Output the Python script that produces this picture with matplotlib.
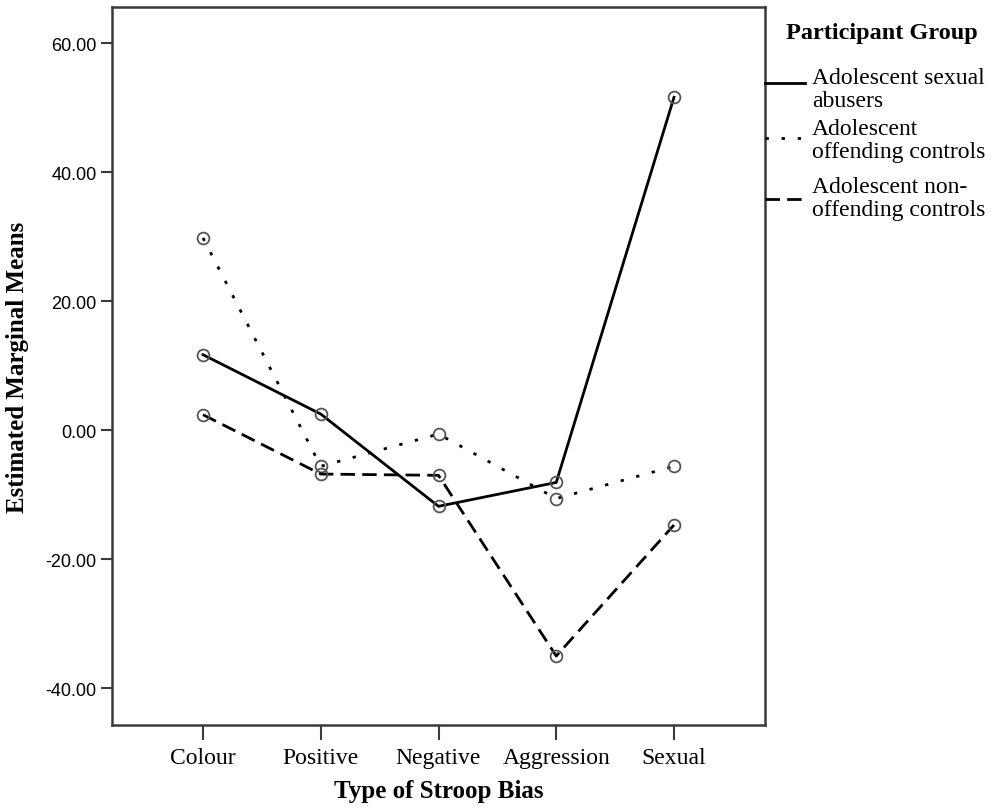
import matplotlib
matplotlib.use("Agg")
import matplotlib.pyplot as plt
from matplotlib.lines import Line2D

# Estimated marginal means by type of Stroop bias
bias_types = ["Colour", "Positive", "Negative", "Aggression", "Sexual"]
sexual_abusers = [11.7, 2.5, -11.8, -8.1, 51.6]
offending_controls = [29.8, -5.6, -0.6, -10.6, -5.6]
nonoffending_controls = [2.4, -6.8, -7.0, -35.0, -14.7]

group_labels = ["Adolescent sexual\nabusers",
                "Adolescent\noffending controls",
                "Adolescent non-\noffending controls"]
yticks = [-40, -20, 0, 20, 40, 60]

serif = "Liberation Serif"
sans = "Liberation Sans"
dark = "#3a3a3a"

fig = plt.figure(figsize=(9.97, 8.12), dpi=100)
ax = fig.add_axes([112/997, 86/812, 653/997, 718/812])

x = list(range(len(bias_types)))
styles = ["-", (0, (1.2, 4.6)), (0, (5.2, 2.6))]
series = [sexual_abusers, offending_controls, nonoffending_controls]
for vals, ls in zip(series, styles):
    ax.plot(x, vals, color="black", linestyle=ls, linewidth=2.0,
            marker="o", markersize=8.5, markerfacecolor="none",
            markeredgecolor="#555555", markeredgewidth=1.3)

ax.set_xlim(-0.773, 4.773)
ax.set_ylim(-45.7, 65.6)
ax.set_xticks(x)
ax.set_xticklabels(bias_types, family=serif, fontsize=17)
ax.set_yticks(yticks)
ax.set_yticklabels(["%.2f" % v for v in yticks], family=sans, fontsize=13)
ax.tick_params(axis="y", length=8, width=1.5, color=dark, pad=3)
ax.tick_params(axis="x", length=11, width=1.5, color=dark, pad=5)
for sp in ax.spines.values():
    sp.set_color(dark)
    sp.set_linewidth(1.8)

ax.set_xlabel("Type of Stroop Bias", family=serif, fontweight="bold",
              fontsize=18, labelpad=8)
ax.set_ylabel("Estimated Marginal Means", family=serif, fontweight="bold",
              fontsize=18, labelpad=12)

# legend drawn by hand to the right of the plot
W, H = 997, 812
fig.text(882/W, 1 - 33/H, "Participant Group", family=serif,
         fontweight="bold", fontsize=17.5, ha="center", va="center")
entry_y = [80, 131, 189]
handle_y = [84, 139, 200]
for lab, ls, ty, hy in zip(group_labels, styles, entry_y, handle_y):
    fig.add_artist(Line2D([765/W, 805/W], [1 - hy/H, 1 - hy/H],
                          transform=fig.transFigure, color="black",
                          linestyle=ls, linewidth=2.0))
    fig.text(812/W, 1 - (ty - 12)/H, lab, family=serif, fontsize=17,
             ha="left", va="top", linespacing=1.13)

fig.savefig("out.png", dpi=100)
